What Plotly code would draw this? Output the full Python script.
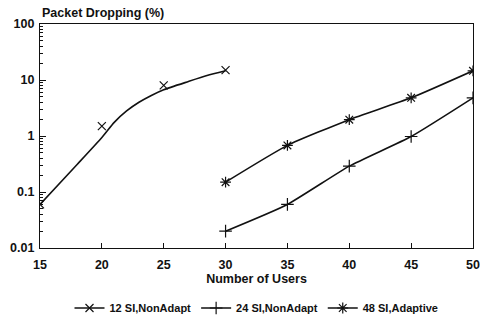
import plotly.graph_objects as go

# Data
users_a = [15, 20, 25, 30]
drop_a = [0.06, 1.5, 8.0, 15.0]
# fitted curve drawn for series A
curve_a_x = [15, 18, 20, 21, 22, 23, 24, 25, 27, 28.5, 30]
curve_a_y = [0.06, 0.31, 0.94, 1.75, 2.8, 4.0, 5.3, 6.7, 9.4, 12.0, 14.6]

users_b = [30, 35, 40, 45, 50]
drop_b = [0.02, 0.06, 0.29, 0.98, 4.8]

users_c = [30, 35, 40, 45, 50]
drop_c = [0.15, 0.68, 1.96, 4.8, 14.6]

names = ["12 SI,NonAdapt", "24 SI,NonAdapt", "48 SI,Adaptive"]
x_ticks = [15, 20, 25, 30, 35, 40, 45, 50]
y_ticks = [0.01, 0.1, 1, 10, 100]
y_ticktext = ["0.01", "0.1", "1", "10", "100"]
y_minor = [m * d for d in [0.01, 0.1, 1, 10] for m in range(2, 10)]

FONT = "Arial, Liberation Sans, sans-serif"
BLACK = "#111111"

fig = go.Figure()

fig.add_trace(go.Scatter(x=curve_a_x, y=curve_a_y, mode="lines", line=dict(color=BLACK, width=1.6, shape="spline", smoothing=0.6),
                         showlegend=False, hoverinfo="skip"))
fig.add_trace(go.Scatter(x=users_a, y=drop_a, mode="markers", showlegend=False,
                         marker=dict(symbol="x-thin", size=8, line=dict(color=BLACK, width=1.2), color=BLACK)))
fig.add_trace(go.Scatter(x=[None], y=[None], mode="lines+markers", name=names[0],
                         line=dict(color=BLACK, width=1.6),
                         marker=dict(symbol="x-thin", size=8, line=dict(color=BLACK, width=1.2), color=BLACK)))

fig.add_trace(go.Scatter(x=users_b, y=drop_b, mode="lines+markers", name=names[1],
                         line=dict(color=BLACK, width=1.6, shape="spline", smoothing=0.5),
                         marker=dict(symbol="cross-thin", size=9, line=dict(color=BLACK, width=1.2), color=BLACK)))

fig.add_trace(go.Scatter(x=users_c, y=drop_c, mode="lines+markers", name=names[2],
                         line=dict(color=BLACK, width=1.6, shape="spline", smoothing=0.5),
                         marker=dict(symbol="asterisk", size=9, line=dict(color=BLACK, width=1.2), color=BLACK)))

fig.update_layout(
    width=480, height=320,
    margin=dict(l=40, r=7, t=24, b=72),
    paper_bgcolor="white", plot_bgcolor="white",
    font=dict(family=FONT, size=12, color=BLACK, weight="bold"),
    showlegend=True,
    legend=dict(orientation="h", x=0.5, xanchor="center", y=0.0375, yref="container", yanchor="middle",
                font=dict(size=11, family=FONT, weight="bold"), itemwidth=30, bgcolor="rgba(0,0,0,0)"),
    annotations=[dict(text="Packet Dropping (%)", x=0, xref="paper", xanchor="left",
                      y=1, yref="paper", yanchor="bottom", yshift=2, showarrow=False,
                      font=dict(size=12.5, family=FONT, weight="bold"))],
)

fig.update_xaxes(range=[15, 50], tickvals=x_ticks, ticks="inside", ticklen=5, tickcolor=BLACK, automargin=False,
                 showline=True, linecolor=BLACK, linewidth=1.2, mirror=True, showgrid=False, zeroline=False,
                 tickfont=dict(size=12.5, family=FONT, weight="bold"), ticklabelstandoff=5,
                 title=dict(text="Number of Users", font=dict(size=12.5, family=FONT, weight="bold"), standoff=3))

fig.update_yaxes(type="log", range=[-2, 2], tickvals=y_ticks, ticktext=y_ticktext, ticks="inside", ticklen=6,
                 automargin=False,
                 tickcolor=BLACK, showline=True, linecolor=BLACK, linewidth=1.2, mirror=True, showgrid=False,
                 zeroline=False, tickfont=dict(size=12.5, family=FONT, weight="bold"), ticklabelstandoff=2,
                 minor=dict(tickvals=y_minor, ticks="inside", ticklen=3, tickcolor=BLACK, showgrid=False))

fig.write_html("out.html")
